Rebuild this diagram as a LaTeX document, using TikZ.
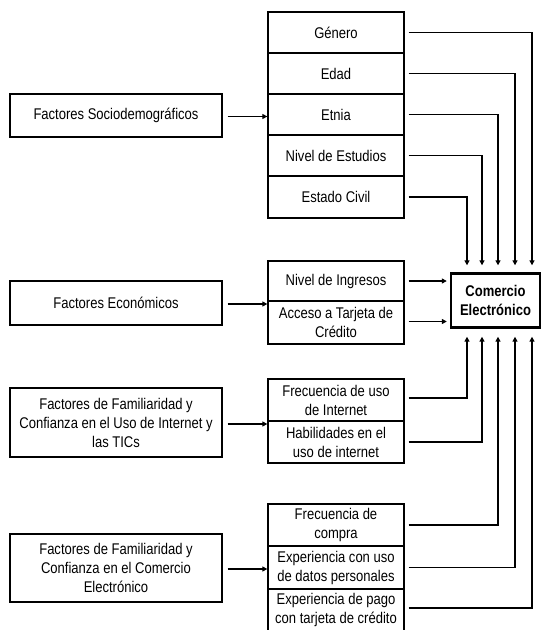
\documentclass[tikz,border=0pt]{standalone}
\usepackage{fontspec}
\setmainfont{Liberation Sans}[FakeStretch=0.84]
\usetikzlibrary{arrows.meta}
\begin{document}
\begin{tikzpicture}[x=1pt,y=-1pt,
  txt/.style={font=\fontsize{15.5}{19}\selectfont},
  box/.style={txt,draw,line width=1.3pt,minimum width=136pt,inner sep=0pt,align=center},
  lbox/.style={txt,draw,line width=1.3pt,minimum width=212pt,inner sep=0pt,align=center},
  target/.style={draw,line width=2.4pt,minimum width=89pt,minimum height=54pt,inner sep=0pt,align=center,
    font={\fontsize{15.5}{19}\selectfont\bfseries}},
  arr/.style={line width=1.5pt,-{Triangle[length=5pt,width=5pt]}},
  con/.style={arr}]
\useasboundingbox (0,0) rectangle (541,630);
% middle column
\node[box,minimum height=41pt] (gen) at (336,32.5) {Género};
\node[box,minimum height=41pt] (eda) at (336,73.5) {Edad};
\node[box,minimum height=41pt] (etn) at (336,114.5) {Etnia};
\node[box,minimum height=41pt] (niv) at (336,155.5) {Nivel de Estudios};
\node[box,minimum height=42pt] (est) at (336,197) {Estado Civil};
\node[box,minimum height=40pt] (ing) at (336,281) {Nivel de Ingresos};
\node[box,minimum height=43pt] (acc) at (336,322.5) {Acceso a Tarjeta de\\Crédito};
\node[box,minimum height=42pt] (fru) at (336,400) {Frecuencia de uso\\de Internet};
\node[box,minimum height=42pt] (hab) at (336,442) {Habilidades en el\\uso de internet};
\node[box,minimum height=42pt] (frc) at (336,525) {Frecuencia de\\compra};
\node[box,minimum height=43pt] (dat) at (336,567.5) {Experiencia con uso\\de datos personales};
\node[box,minimum height=42pt] (pag) at (336,610) {Experiencia de pago\\con tarjeta de crédito};
% left column
\node[lbox,minimum height=43pt] (soc) at (116,115.5) {Factores Sociodemográficos};
\node[lbox,minimum height=44pt] (eco) at (116,303) {Factores Económicos};
\node[lbox,minimum height=69pt] (tic) at (116,422.5) {Factores de Familiaridad y\\Confianza en el Uso de Internet y\\las TICs};
\node[lbox,minimum height=68pt] (fce) at (116,568) {Factores de Familiaridad y\\Confianza en el Comercio\\Electrónico};
% target
\node[target] (com) at (495.5,300.5) {Comercio\\Electrónico};
% left arrows
\draw[arr,shorten <=5pt] ([yshift=-1pt]soc.east) -- ([yshift=-1pt]soc.east -| etn.west);
\draw[arr,shorten <=5pt] ([yshift=-1pt]eco.east) -- ([yshift=-1pt]eco.east -| ing.west);
\draw[arr,shorten <=5pt] ([yshift=-1.5pt]tic.east) -- ([yshift=-1.5pt]tic.east -| fru.west);
\draw[arr,shorten <=5pt] ([yshift=-1pt]fce.east) -- ([yshift=-1pt]fce.east -| dat.west);
% down connectors
\draw[con,shorten <=4pt,shorten >=7pt] (gen.east) -| ([xshift=36.5pt]com.north);
\draw[con,shorten <=4pt,shorten >=7pt] (eda.east) -| ([xshift=19.5pt]com.north);
\draw[con,shorten <=4pt,shorten >=7pt] (etn.east) -| ([xshift=2.5pt]com.north);
\draw[con,shorten <=4pt,shorten >=7pt] (niv.east) -| ([xshift=-13.5pt]com.north);
\draw[con,shorten <=4pt,shorten >=7pt] (est.east) -| ([xshift=-28.5pt]com.north);
% horizontal
\draw[arr,shorten <=4pt,shorten >=3pt] (ing.east) -- (ing.east -| com.west);
\draw[arr,shorten <=4pt,shorten >=3pt] ([yshift=1pt]acc.east) -- ([yshift=1pt]acc.east -| com.west);
% up connectors
\draw[con,shorten <=4pt,shorten >=8pt] ([yshift=2pt]fru.east) -| ([xshift=-28.5pt]com.south);
\draw[con,shorten <=4pt,shorten >=8pt] (hab.east) -| ([xshift=-13.5pt]com.south);
\draw[con,shorten <=4pt,shorten >=8pt] (frc.east) -| ([xshift=2.5pt]com.south);
\draw[con,shorten <=4pt,shorten >=8pt] (dat.east) -| ([xshift=19.5pt]com.south);
\draw[con,shorten <=4pt,shorten >=8pt] ([yshift=2pt]pag.east) -| ([xshift=36.5pt]com.south);
\end{tikzpicture}
\end{document}
